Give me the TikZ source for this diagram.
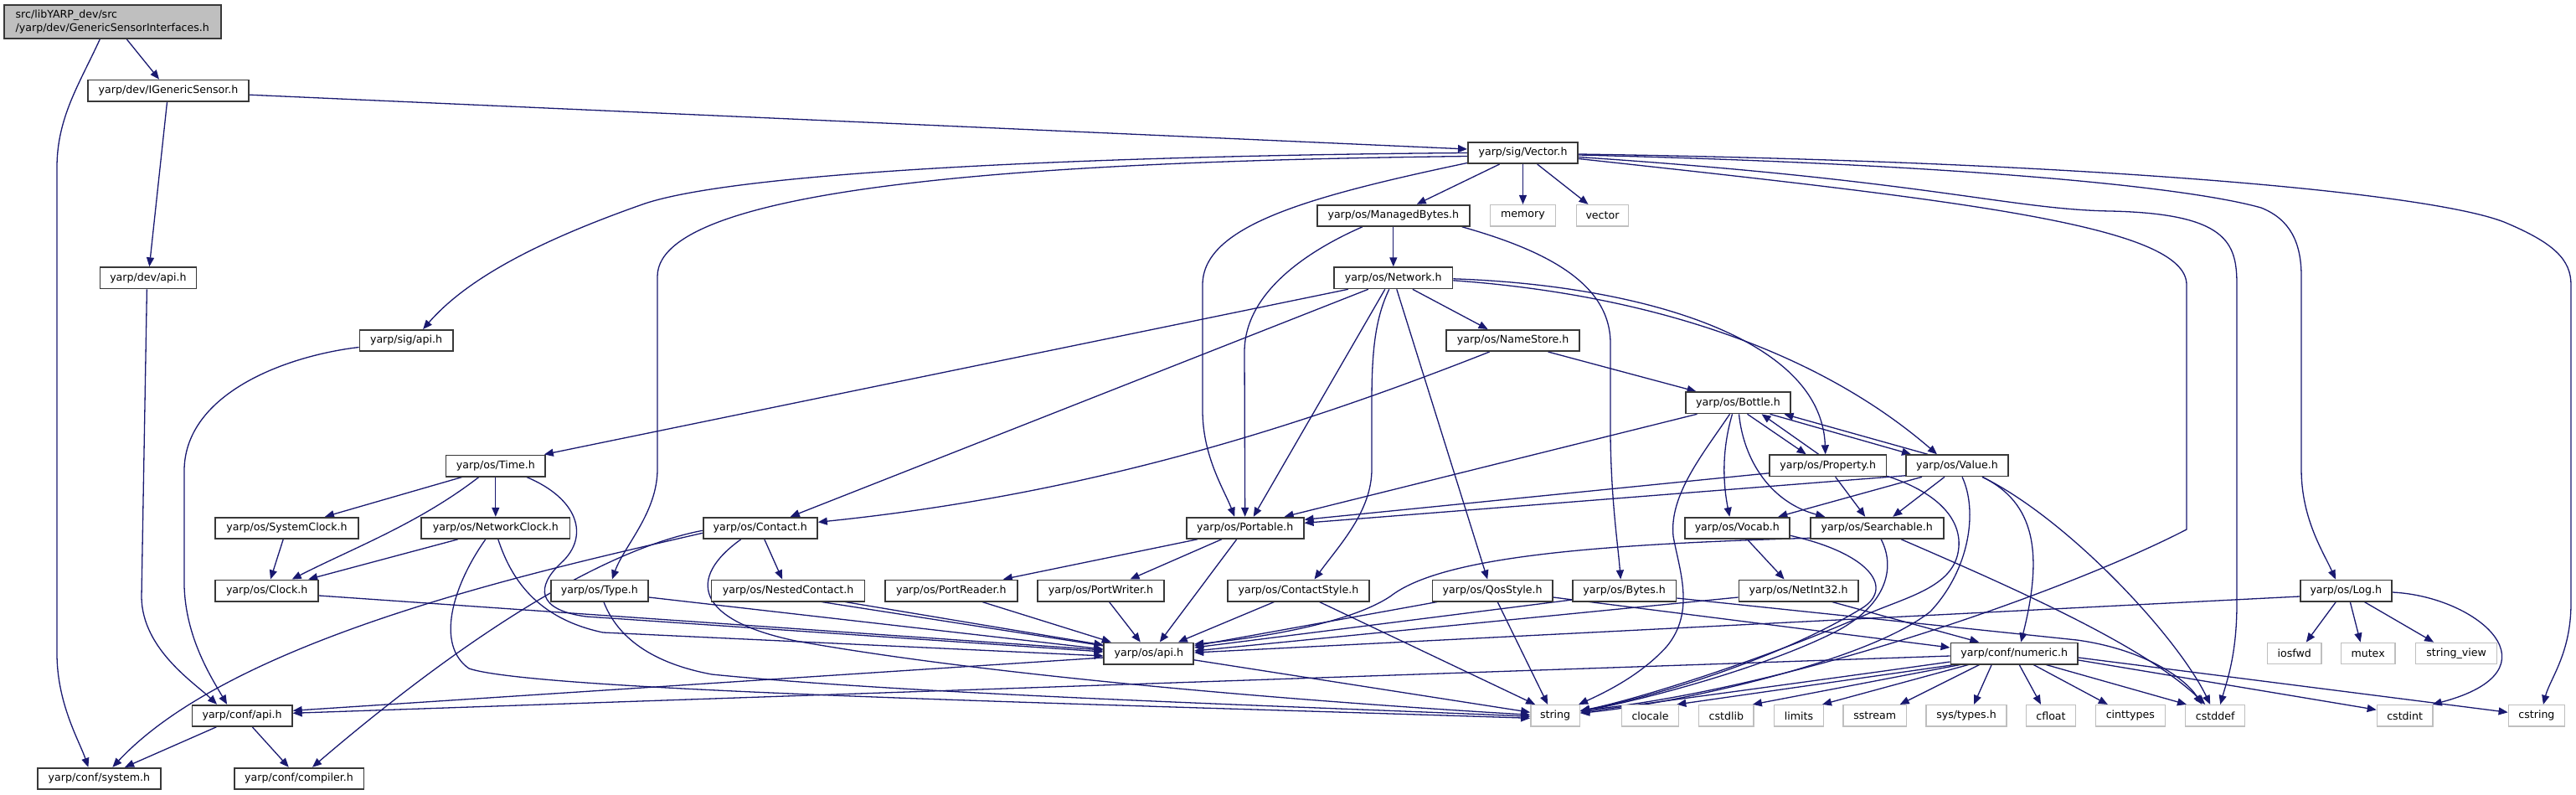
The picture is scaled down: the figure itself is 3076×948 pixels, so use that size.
\documentclass[tikz,border=0pt]{standalone}
\usepackage{fontspec}
\newfontfamily\dejavu{DejaVu Sans}
\usetikzlibrary{arrows.meta,calc}
\pgfdeclarelayer{bg}
\pgfsetlayers{bg,main}
\definecolor{edgec}{HTML}{191970}
\definecolor{boxc}{HTML}{383838}
\definecolor{extc}{HTML}{BFBFBF}
\definecolor{rootc}{HTML}{BFBFBF}
\begin{document}
\begin{tikzpicture}[x=1pt,y=-1pt,
  box/.style={draw=boxc, fill=white, line width=1.7pt, minimum height=25.3pt, inner sep=0pt, text=black, font=\dejavu\fontsize{12.6}{15.5}\selectfont},
  ext/.style={box, draw=extc, line width=1.5pt},
  rootn/.style={box, fill=rootc},
  dep/.style={draw=edgec, line width=1.3pt, -{Triangle[length=11pt,width=9pt]}}]
\path[use as bounding box] (0,0) rectangle (3076,948);

% nodes
\node[rootn, minimum width=258.7, minimum height=40.3, align=left] (root) at (134.3,25.8) {src/libYARP\_dev/src\\/yarp/dev/GenericSensorInterfaces.h};
\node[box, minimum width=192] (IGS) at (201,108.2) {yarp/dev/IGenericSensor.h};
\node[box, minimum width=115] (devapi) at (176.9,331.8) {yarp/dev/api.h};
\node[box, minimum width=111.4] (sigapi) at (485.1,406.5) {yarp/sig/api.h};
\node[box, minimum width=131.4] (Vector) at (1818.5,182.5) {yarp/sig/Vector.h};
\node[box, minimum width=182.1] (MB) at (1663.8,257.3) {yarp/os/ManagedBytes.h};
\node[ext, minimum width=77.6] (memory) at (1818.5,257.3) {memory};
\node[ext, minimum width=61.7] (vectorstd) at (1913.5,257.3) {vector};
\node[box, minimum width=141.3] (Network) at (1663.8,331.8) {yarp/os/Network.h};
\node[box, minimum width=159.2] (NameStore) at (1806.6,406.5) {yarp/os/NameStore.h};
\node[box, minimum width=125.6] (Bottle) at (2075.5,480.8) {yarp/os/Bottle.h};
\node[box, minimum width=118.9] (Time) at (591.8,556) {yarp/os/Time.h};
\node[box, minimum width=139.3] (Property) at (2182.7,555.8) {yarp/os/Property.h};
\node[box, minimum width=122.6] (Value) at (2337,555.8) {yarp/os/Value.h};
\node[box, minimum width=170.7] (SystemClock) at (342.5,630.3) {yarp/os/SystemClock.h};
\node[box, minimum width=177.6] (NetworkClock) at (591.8,630.3) {yarp/os/NetworkClock.h};
\node[box, minimum width=136.3] (Contact) at (907.8,630.3) {yarp/os/Contact.h};
\node[box, minimum width=140] (Portable) at (1486.7,630.3) {yarp/os/Portable.h};
\node[box, minimum width=125.3] (Vocab) at (2074.3,630.3) {yarp/os/Vocab.h};
\node[box, minimum width=159] (Searchable) at (2241.2,630.3) {yarp/os/Searchable.h};
\node[box, minimum width=122.9] (Clock) at (318.7,705) {yarp/os/Clock.h};
\node[box, minimum width=116.4] (Type) at (715.9,705) {yarp/os/Type.h};
\node[box, minimum width=183] (NestedContact) at (941.1,705) {yarp/os/NestedContact.h};
\node[box, minimum width=157.7] (PortReader) at (1135.8,705) {yarp/os/PortReader.h};
\node[box, minimum width=150.8] (PortWriter) at (1314.5,705) {yarp/os/PortWriter.h};
\node[box, minimum width=169.6] (ContactStyle) at (1550.5,705) {yarp/os/ContactStyle.h};
\node[box, minimum width=143.3] (QosStyle) at (1782.2,705) {yarp/os/QosStyle.h};
\node[box, minimum width=123.5] (Bytes) at (1939.7,705) {yarp/os/Bytes.h};
\node[box, minimum width=142.5] (NetInt32) at (2147.6,705) {yarp/os/NetInt32.h};
\node[box, minimum width=109.3] (Log) at (2801.3,705) {yarp/os/Log.h};
\node[box, minimum width=107] (osapi) at (1371.8,780) {yarp/os/api.h};
\node[box, minimum width=151.7] (numeric) at (2405.2,780) {yarp/conf/numeric.h};
\node[ext, minimum width=64.7] (iosfwd) at (2739.8,780) {iosfwd};
\node[ext, minimum width=64.7] (mutex) at (2827.6,780) {mutex};
\node[ext, minimum width=97.2] (stringview) at (2933.1,780) {string\_view};
\node[box, minimum width=119.4] (confapi) at (289.1,854.3) {yarp/conf/api.h};
\node[ext, minimum width=58.5] (string) at (1857.1,854.3) {string};
\node[ext, minimum width=68.2] (clocale) at (1970.5,854.3) {clocale};
\node[ext, minimum width=65.6] (cstdlib) at (2061.3,854.3) {cstdlib};
\node[ext, minimum width=58.7] (limits) at (2147.9,854.3) {limits};
\node[ext, minimum width=75.1] (sstream) at (2238.7,854.3) {sstream};
\node[ext, minimum width=96] (systypes) at (2348,854.3) {sys/types.h};
\node[ext, minimum width=59.4] (cfloat) at (2449,854.3) {cfloat};
\node[ext, minimum width=83] (cinttypes) at (2543.8,854.3) {cinttypes};
\node[ext, minimum width=71] (cstddef) at (2645.2,854.3) {cstddef};
\node[ext, minimum width=66.6] (cstdint) at (2871.7,854.3) {cstdint};
\node[ext, minimum width=67.1] (cstring) at (3028.9,854.3) {cstring};
\node[box, minimum width=147.2] (system) at (118.4,929.3) {yarp/conf/system.h};
\node[box, minimum width=154.7] (compiler) at (357,929.3) {yarp/conf/compiler.h};

\begin{pgfonlayer}{bg}
% root
\draw[dep] (root) -- (IGS);
\draw[dep] ($(root.south)+(-15,0)$) .. controls (95,100) and (68,140) .. (68,200) -- (68,780) .. controls (68,840) and (95,885) .. ($(system.north)+(-13,0)$);
% IGenericSensor
\draw[dep] (IGS) -- (devapi);
\draw[dep] ($(IGS.east)+(0,5)$) -- ($(Vector.west)+(0,-4.5)$);
\draw[dep] ($(devapi.south)+(-1.5,0)$) -- (169,713) .. controls (170,775) and (232,815) .. ($(confapi.north)+(-30,0)$);
\draw[dep] ($(sigapi.west)+(0,8)$) .. controls (340,425) and (222,470) .. (220,560) -- (220,700) .. controls (222,760) and (250,805) .. ($(confapi.north)+(-18,0)$);
% Vector
\draw[dep] (Vector.west) .. controls (1400,185) and (900,200) .. (770,243) .. controls (650,285) and (560,330) .. ($(sigapi.north)+(20,0)$);
\draw[dep] (Vector) -- (MB);
\draw[dep] (Vector) -- (memory);
\draw[dep] (Vector) -- (vectorstd);
\draw[dep] ($(Vector.west)+(0,12)$) .. controls (1560,235) and (1436,270) .. (1436,340) -- (1436,490) .. controls (1436,545) and (1462,585) .. ($(Portable.north)+(-12.5,0)$);
\draw[dep] ($(Vector.west)+(0,4)$) .. controls (1300,192) and (785,215) .. (785,330) -- (785,560) .. controls (785,612) and (745,652) .. ($(Type.north)+(15,0)$);
\draw[dep] ($(Vector.east)+(0,7)$) .. controls (2350,240) and (2611,270) .. (2611,340) -- (2611,632) .. controls (2480,700) and (2150,820) .. ($(string.east)+(0,-6)$);
\draw[dep] ($(Vector.east)+(0,5)$) .. controls (2300,215) and (2400,250) .. (2520,252) .. controls (2660,255) and (2671,290) .. (2671,340) -- (2671,720) .. controls (2671,780) and (2660,810) .. ($(cstddef.north)+(6,0)$);
\draw[dep] ($(Vector.east)+(0,2.5)$) .. controls (2300,195) and (2600,220) .. (2700,248) .. controls (2735,262) and (2748,290) .. (2748,330) -- (2748,560) .. controls (2748,620) and (2775,660) .. ($(Log.north)+(-12.5,0)$);
\draw[dep] ($(Vector.east)+(0,1.5)$) .. controls (2500,193) and (2900,230) .. (2990,265) .. controls (3050,290) and (3070,310) .. (3070,340) -- (3070,720) .. controls (3070,780) and (3045,810) .. ($(cstring.north)+(8,0)$);
% ManagedBytes
\draw[dep] (MB) -- (Network);
\draw[dep] ($(MB.south)+(-37,0)$) .. controls (1560,300) and (1486,350) .. (1486,420) -- (Portable);
\draw[dep] ($(MB.south)+(82,0)$) .. controls (1850,300) and (1923,340) .. (1923,410) -- (1923,520) .. controls (1924,600) and (1932,650) .. ($(Bytes.north)+(-4.5,0)$);
% Network
\draw[dep] ($(Network.south)+(-54,0)$) -- ($(Time.north)+(58,0)$);
\draw[dep] ($(Network.south)+(-30,0)$) -- ($(Contact.north)+(36,0)$);
\draw[dep] ($(Network.south)+(-10,0)$) -- ($(Portable.north)+(10,0)$);
\draw[dep] ($(Network.south)+(-5,0)$) .. controls (1642,380) and (1638,420) .. (1638,480) -- (1638,560) .. controls (1638,610) and (1600,650) .. ($(ContactStyle.north)+(19,0)$);
\draw[dep] ($(Network.south)+(4,0)$) -- ($(QosStyle.north)+(-6,0)$);
\draw[dep] ($(Network.south)+(23,0)$) -- ($(NameStore.north)+(-30,0)$);
\draw[dep] ($(Network.east)+(0,1)$) .. controls (1950,340) and (2175,400) .. ($(Property.north)+(-3,0)$);
\draw[dep] ($(Network.east)+(0,3)$) .. controls (1950,350) and (2160,410) .. ($(Value.north)+(-24,0)$);
% NameStore
\draw[dep] ($(NameStore.south)+(-28,0)$) .. controls (1550,510) and (1300,590) .. ($(Contact.east)+(0,-7)$);
\draw[dep] ($(NameStore.south)+(42,0)$) -- ($(Bottle.north)+(-50,0)$);
% Bottle
\draw[dep] ($(Bottle.south)+(-49,0)$) -- ($(Portable.north)+(47,0)$);
\draw[dep] ($(Bottle.south)+(-10,0)$) .. controls (2035,540) and (1993,590) .. (1998,640) .. controls (2005,680) and (2025,730) .. (1990,772) .. controls (1960,805) and (1920,825) .. ($(string.north east)+(-2,0)$);
\draw[dep] ($(Bottle.south)+(-7,0)$) .. controls (2055,540) and (2058,580) .. ($(Vocab.north)+(-9,0)$);
\draw[dep] ($(Bottle.south)+(1,0)$) .. controls (2082,550) and (2115,600) .. ($(Searchable.north)+(-62,0)$);
\draw[dep] ($(Bottle.south)+(11,0)$) -- ($(Property.north)+(-26,0)$);
\draw[dep] ($(Property.north)+(-11,0)$) -- ($(Bottle.south)+(28,0)$);
\draw[dep] ($(Bottle.south)+(38,0)$) -- ($(Value.north)+(-55,0)$);
\draw[dep] ($(Value.north)+(-35,0)$) -- ($(Bottle.south)+(55,0)$);
% Property
\draw[dep] ($(Property.west)+(0,9)$) -- ($(Portable.east)+(0,-10)$);
\draw[dep] ($(Property.south)+(9,0)$) -- ($(Searchable.north)+(-14,0)$);
\draw[dep] ($(Property.south east)+(0,-1)$) .. controls (2320,590) and (2345,625) .. (2338,660) .. controls (2330,700) and (2280,712) .. (2232,732) .. controls (2100,790) and (1950,836) .. (string);
% Value
\draw[dep] ($(Value.west)+(0,12)$) -- ($(Portable.east)+(0,-6)$);
\draw[dep] ($(Value.south)+(-42,0)$) -- ($(Vocab.north)+(49,0)$);
\draw[dep] ($(Value.south)+(-15,0)$) -- ($(Searchable.north)+(19,0)$);
\draw[dep] ($(Value.south)+(6,0)$) .. controls (2362,610) and (2352,680) .. (2305,730) .. controls (2230,790) and (2000,840) .. (string);
\draw[dep] ($(Value.south)+(30,0)$) .. controls (2430,600) and (2440,660) .. ($(numeric.north)+(8,0)$);
\draw[dep] ($(Value.south)+(30,0)$) .. controls (2470,620) and (2600,760) .. ($(cstddef.north)+(-6,0)$);
% Searchable
\draw[dep] ($(Searchable.west)+(0,12)$) .. controls (1900,650) and (1720,665) .. (1660,712) .. controls (1610,745) and (1500,762) .. ($(osapi.east)+(0,-11)$);
\draw[dep] ($(Searchable.south)+(5,0)$) .. controls (2265,680) and (2250,725) .. (2190,755) .. controls (2100,800) and (1950,838) .. (string);
\draw[dep] ($(Searchable.south)+(29,0)$) .. controls (2400,700) and (2560,770) .. ($(cstddef.north)+(-12,0)$);
% Vocab
\draw[dep] ($(Vocab.south)+(12,0)$) -- ($(NetInt32.north)+(-17,0)$);
\draw[dep] ($(Vocab.east)+(0,9)$) .. controls (2230,660) and (2262,700) .. (2225,725) .. controls (2120,790) and (1960,835) .. (string);
% NetInt32
\draw[dep] ($(NetInt32.west)+(0,8)$) -- ($(osapi.east)+(0,-3)$);
\draw[dep] ($(NetInt32.south)+(40,0)$) -- ($(numeric.north)+(-42,0)$);
% Bytes
\draw[dep] ($(Bytes.west)+(0,11)$) -- ($(osapi.east)+(0,-7)$);
\draw[dep] ($(Bytes.east)+(0,9)$) -- (2480,764) .. controls (2560,775) and (2610,810) .. ($(cstddef.north)+(-16,0)$);
% QosStyle
\draw[dep] ($(QosStyle.south)+(-66,0)$) -- ($(osapi.east)+(0,-9)$);
\draw[dep] ($(QosStyle.south)+(6,0)$) -- ($(string.north)+(-9,0)$);
\draw[dep] ($(QosStyle.east)+(0,8)$) -- ($(numeric.west)+(0,-7)$);
% ContactStyle
\draw[dep] ($(ContactStyle.south)+(-29,0)$) -- ($(osapi.north)+(35,0)$);
\draw[dep] ($(ContactStyle.south)+(25,0)$) -- ($(string.north)+(-24,0)$);
% Portable
\draw[dep] ($(Portable.south)+(-57,0)$) -- ($(PortReader.north)+(62,0)$);
\draw[dep] ($(Portable.south)+(-28,0)$) -- ($(PortWriter.north)+(35,0)$);
\draw[dep] ($(Portable.south)+(-10,0)$) -- ($(osapi.north)+(13,0)$);
\draw[dep] ($(PortReader.south)+(37,0)$) -- ($(osapi.north)+(-45,0)$);
\draw[dep] ($(PortWriter.south)+(10,0)$) -- ($(osapi.north)+(-10,0)$);
% NestedContact
\draw[dep] ($(NestedContact.south)+(68,0)$) -- ($(osapi.west)+(0,-10)$);
\draw[dep] ($(NestedContact.south)+(40,0)$) -- ($(string.west)+(0,-4)$);
% Contact
\draw[dep] ($(Contact.south)+(5,0)$) -- ($(NestedContact.north)+(-7,0)$);
\draw[dep] ($(Contact.south)+(-23,0)$) .. controls (820,690) and (830,740) .. (950,765) .. controls (1200,810) and (1600,840) .. ($(string.west)+(0,-1)$);
\draw[dep] ($(Contact.west)+(0,6)$) .. controls (650,680) and (280,760) .. ($(system.north)+(16,0)$);
\draw[dep] ($(Contact.west)+(0,3)$) .. controls (700,660) and (520,790) .. ($(compiler.north)+(16,0)$);
% Time
\draw[dep] ($(Time.south)+(-40,0)$) -- ($(SystemClock.north)+(45.5,0)$);
\draw[dep] ($(Time.south)+(-20,0)$) .. controls (500,625) and (420,655) .. ($(Clock.north)+(30,0)$);
\draw[dep] (Time) -- (NetworkClock);
\draw[dep] ($(Time.south)+(37,0)$) .. controls (690,595) and (705,640) .. (670,672) .. controls (640,700) and (640,728) .. (700,736) -- ($(osapi.west)+(0,-2)$);
% NetworkClock
\draw[dep] ($(NetworkClock.south)+(-45,0)$) -- ($(Clock.north)+(49.5,0)$);
\draw[dep] ($(NetworkClock.south)+(3,0)$) .. controls (610,690) and (640,738) .. (720,755) -- ($(osapi.west)+(0,3)$);
\draw[dep] ($(NetworkClock.south)+(-12,0)$) .. controls (540,700) and (520,770) .. (560,798) .. controls (640,825) and (1300,840) .. ($(string.west)+(0,3)$);
% Type
\draw[dep] ($(Type.east)+(0,8)$) -- ($(osapi.west)+(0,-5)$);
\draw[dep] ($(Type.south)+(5,0)$) .. controls (735,755) and (770,790) .. (850,805) .. controls (1100,830) and (1600,845) .. ($(string.west)+(0,1)$);
% Clock
\draw[dep] ($(Clock.east)+(0,6)$) -- ($(osapi.west)+(0,-4)$);
\draw[dep] (SystemClock) -- (Clock);
% os/api, conf
\draw[dep] ($(osapi.west)+(0,5)$) -- ($(confapi.east)+(0,-6)$);
\draw[dep] ($(numeric.west)+(0,3)$) -- ($(confapi.east)+(0,-3)$);
\draw[dep] (confapi) -- (system);
\draw[dep] (confapi) -- (compiler);
% numeric
\draw[dep] ($(numeric.west)+(0,10)$) .. controls (2150,815) and (1950,842) .. (string);
\draw[dep] ($(numeric.south west)+(5,0)$) -- ($(clocale.north east)+(-3,0)$);
\draw[dep] ($(numeric.south west)+(12,0)$) -- ($(cstdlib.north east)+(-2,0)$);
\draw[dep] ($(numeric.south west)+(22,0)$) -- ($(limits.north east)+(-2,0)$);
\draw[dep] ($(numeric.south west)+(35,0)$) -- ($(sstream.north)+(30,0)$);
\draw[dep] ($(numeric.south)+(-27,0)$) -- ($(systypes.north)+(9,0)$);
\draw[dep] ($(numeric.south)+(6,0)$) -- ($(cfloat.north)+(-12,0)$);
\draw[dep] ($(numeric.south)+(23,0)$) -- ($(cinttypes.north)+(-27,0)$);
\draw[dep] ($(numeric.south)+(38,0)$) -- ($(cstddef.north west)+(2,0)$);
\draw[dep] ($(numeric.east)+(0,8)$) -- ($(cstdint.west)+(0,-7)$);
\draw[dep] ($(numeric.east)+(0,5)$) -- ($(cstring.west)+(0,-4)$);
% Log
\draw[dep] ($(Log.south)+(-12,0)$) -- ($(iosfwd.north)+(14,0)$);
\draw[dep] ($(Log.south)+(5,0)$) -- ($(mutex.north)+(-9,0)$);
\draw[dep] ($(Log.south)+(22,0)$) -- ($(stringview.north)+(-27,0)$);
\draw[dep] ($(Log.east)+(0,2)$) .. controls (2960,712) and (3060,800) .. ($(cstdint.north)+(33,0)$);
\draw[dep] ($(Log.west)+(0,7)$) -- ($(osapi.east)+(0,-1)$);
\end{pgfonlayer}
\end{tikzpicture}
\end{document}
